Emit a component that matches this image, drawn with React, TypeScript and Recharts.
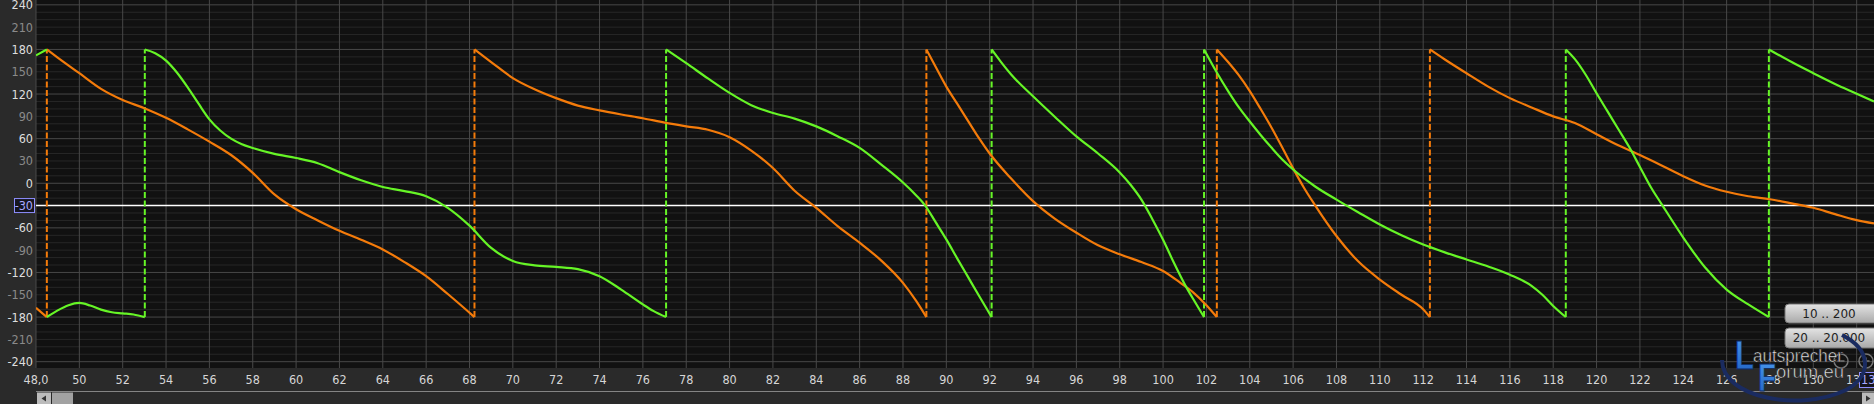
import { CartesianGrid, Line, LineChart, ReferenceLine, XAxis, YAxis } from "recharts";

type Pt = [number, number];

// phase (deg) vs frequency (Hz), split where the phase wraps at ±180
const orangeSegments: Pt[][] = [
  [[48, -167.5], [48.5, -180]],
  [[48.5, 180], [49, 169], [50, 148], [51, 127], [52, 112], [53, 101], [54, 88], [55, 72.5], [56, 56], [57, 38], [58, 14], [59, -15], [60, -35], [61, -50], [62, -64], [63, -76], [64, -89], [65, -106], [66, -125], [67, -149], [68.23, -180]],
  [[68.23, 180], [69, 163], [70, 141.5], [71, 126.5], [72, 114.5], [73, 104.5], [74, 98], [75, 92.5], [76, 87.5], [77, 81.5], [78, 76.5], [79, 72], [80, 62], [81, 44], [82, 20.5], [83, -10], [84, -33], [85, -58], [86, -80], [87, -104], [88, -134], [88.6, -158], [89.08, -180]],
  [[89.08, 180], [89.5, 157], [90, 130], [90.5, 107], [91, 84], [91.5, 61], [92, 40], [93, 6], [94, -24], [95, -47.5], [96, -66.5], [97, -83.5], [98, -95.5], [99, -106], [100, -118], [100.8, -134], [101.4, -147], [102, -164], [102.48, -180]],
  [[102.48, 180], [103, 163], [103.5, 145], [104, 124], [104.5, 100], [105, 75], [105.5, 48], [106, 20], [106.5, -6], [107, -29], [108, -71], [109, -105], [110, -129.5], [111, -150], [112, -169.5], [112.31, -180]],
  [[112.31, 180], [113, 166.5], [114, 148], [115, 130], [116, 114.5], [117, 102], [118, 90], [119, 81], [120, 66], [121, 51], [122, 38], [123, 24], [124, 9.5], [125, -3], [126, -11.5], [127, -17.5], [128, -21.5], [129, -27], [130, -33], [131, -41.5], [132, -49.5], [132.8, -54]],
];

const greenSegments: Pt[][] = [
  [[48, 172], [48.5, 180]],
  [[48.5, -180], [49, -171], [49.5, -164], [50, -161], [50.5, -164.5], [51, -170], [51.5, -173.5], [52, -175], [52.5, -176.5], [53.02, -180]],
  [[53.02, 180], [53.5, 175], [54, 165], [54.5, 149], [55, 129], [55.5, 107], [56, 86], [56.5, 71], [57, 60], [57.5, 52.5], [58, 47.5], [59, 39.5], [60, 34], [61, 27], [62, 15], [63, 4], [64, -5], [65, -10.5], [66, -17.5], [67, -33], [68, -57], [69, -87], [70, -104.5], [71, -110.5], [72, -112.5], [73, -115.5], [74, -125], [75, -143], [76, -163], [76.5, -172], [77.07, -180]],
  [[77.07, 180], [78, 161.5], [79, 141], [80, 121.5], [81, 105], [82, 94.5], [83, 87], [84, 76.5], [85, 63], [86, 47.5], [87, 25], [88, 1], [88.6, -16], [89, -29], [89.5, -52], [90, -75.5], [90.5, -101], [91, -126], [91.5, -151], [92.09, -180]],
  [[92.09, 180], [92.5, 164], [93, 146], [94, 117], [95, 89.5], [96, 63], [97, 40], [98, 14.5], [98.5, -2], [99, -22], [99.5, -48], [100, -76], [100.5, -107], [101, -136], [101.5, -161], [101.89, -180]],
  [[101.89, 180], [102.5, 148], [103, 124], [103.5, 102], [104, 83], [104.5, 65], [105, 48], [105.5, 32], [106, 18.5], [107, -4], [108, -22], [109, -39], [110, -55.5], [111, -70], [112, -82.5], [113, -93], [114, -102.5], [115, -112], [116, -123], [117, -138], [117.5, -150], [118, -165], [118.58, -180]],
  [[118.58, 180], [119, 167], [119.5, 146], [120, 121], [120.5, 97], [121, 73], [121.5, 49], [122, 22], [122.5, -5], [123, -28], [124, -73], [125, -113], [126, -143], [127, -163], [127.95, -180]],
  [[127.95, 180], [129, 163], [130, 148], [131, 133.5], [132, 120.5], [132.8, 110]],
];

const orangeWraps = [48.5, 68.23, 89.08, 102.48, 112.31];
const greenWraps = [53.02, 77.07, 92.09, 101.89, 118.58, 127.95];

const xTicks = [48, 50, 52, 54, 56, 58, 60, 62, 64, 66, 68, 70, 72, 74, 76, 78, 80, 82, 84, 86, 88, 90, 92, 94, 96, 98, 100, 102, 104, 106, 108, 110, 112, 114, 116, 118, 120, 122, 124, 126, 128, 130, 132];
const yTicks = [240, 210, 180, 150, 120, 90, 60, 30, 0, -30, -60, -90, -120, -150, -180, -210, -240];
const markerLevel = -30;

const ORANGE = "#f47b0a";
const GREEN = "#66f526";
const FONT = "'Liberation Sans Narrow', 'DejaVu Sans Condensed', 'Roboto Condensed', Roboto, sans-serif";

const majorRows = yTicks.filter((v) => v % 60 === 0);
const minorRows: number[] = [];
for (let v = -240; v <= 240; v += 10) if (v % 60 !== 0) minorRows.push(v);

function toRows(segments: Pt[][]) {
  const rows: { hz: number; deg: number | null }[] = [];
  segments.forEach((seg, i) => {
    if (i > 0) rows.push({ hz: seg[0][0], deg: null });
    seg.forEach(([hz, deg]) => rows.push({ hz, deg }));
  });
  return rows;
}

const orangeData = toRows(orangeSegments);
const greenData = toRows(greenSegments);

function YTick(props: any) {
  const { y, payload } = props;
  const v = payload.value;
  if (v === markerLevel) {
    return (
      <g>
        <rect x={14.5} y={y - 7} width={20} height={14} fill="#15151f" stroke="#8f8fff" />
        <text x={33} y={y} textAnchor="end" dominantBaseline="central" fill="#a9a9ff" fontSize={12.5} fontFamily={FONT}>
          {v}
        </text>
      </g>
    );
  }
  return (
    <text x={33} y={y} textAnchor="end" dominantBaseline="central" fill={v % 60 === 0 ? "#dedede" : "#8a8a8a"} fontSize={12.5} fontFamily={FONT}>
      {v}
    </text>
  );
}

function XTick(props: any) {
  const { x, y, payload } = props;
  const label = payload.value === 48 ? "48,0" : String(payload.value);
  return (
    <text x={x} y={y + 15.5} textAnchor="middle" fill="#d6d6d6" fontSize={12.5} fontFamily={FONT}>
      {label}
    </text>
  );
}

export default function App() {
  return (
    <div style={{ position: "absolute", left: 0, top: 0, width: 1874, height: 404, overflow: "hidden", background: "#2a2a2a" }}>
      <LineChart width={1874} height={404} margin={{ top: 0, right: 0, bottom: 14, left: 0 }}>
        <CartesianGrid fill="#111111" stroke="#272727" vertical={false} horizontalValues={minorRows} />
        <CartesianGrid stroke="#484848" horizontalValues={majorRows} verticalValues={xTicks} />
        <XAxis
          dataKey="hz"
          type="number"
          domain={[48, 132.8]}
          allowDataOverflow
          ticks={xTicks}
          interval={0}
          height={22}
          axisLine={false}
          tickLine={false}
          tickSize={0}
          tickMargin={0}
          tick={<XTick />}
        />
        <YAxis
          type="number"
          domain={[-248.5, 246.5]}
          allowDataOverflow
          ticks={yTicks}
          interval={0}
          width={36}
          axisLine={false}
          tickLine={false}
          tickSize={0}
          tickMargin={0}
          tick={<YTick />}
        />
        <ReferenceLine y={markerLevel} stroke="#ffffff" strokeWidth={1.5} />
        {greenWraps.map((hz) => (
          <ReferenceLine
            key={"g" + hz}
            segment={[{ x: hz, y: -180 }, { x: hz, y: 180 }]}
            stroke={GREEN}
            strokeWidth={2}
            strokeDasharray="6 2.5"
          />
        ))}
        {orangeWraps.map((hz) => (
          <ReferenceLine
            key={"o" + hz}
            segment={[{ x: hz, y: -180 }, { x: hz, y: 180 }]}
            stroke={ORANGE}
            strokeWidth={2}
            strokeDasharray="6 2.5"
          />
        ))}
        <Line data={orangeData} dataKey="deg" type="monotone" stroke={ORANGE} strokeWidth={2.2} dot={false} activeDot={false} connectNulls={false} isAnimationActive={false} />
        <Line data={greenData} dataKey="deg" type="monotone" stroke={GREEN} strokeWidth={2.2} dot={false} activeDot={false} connectNulls={false} isAnimationActive={false} />
      </LineChart>

      <svg width={1874} height={404} style={{ position: "absolute", left: 0, top: 0, pointerEvents: "none" }}>
        <defs>
          <linearGradient id="btn" x1="0" y1="0" x2="0" y2="1">
            <stop offset="0" stopColor="#e4e4e4" />
            <stop offset="1" stopColor="#a9a9a9" />
          </linearGradient>
          <linearGradient id="logoBlue" x1="0" y1="0" x2="0" y2="1">
            <stop offset="0" stopColor="#4a9af0" />
            <stop offset="1" stopColor="#1f5fc0" />
          </linearGradient>
        </defs>

        {/* scrollbar */}
        <line x1={36} x2={1874} y1={391.5} y2={391.5} stroke="#858585" />
        <rect x={37} y={392.5} width={14} height={12} fill="#bcbcbc" />
        <path d="M46 395.5 L41.5 398.5 L46 401.5 Z" fill="#333" />
        <rect x={52} y={392.5} width={21} height={12} fill="#a2a2a2" />
        <rect x={1862} y={392.5} width={12} height={12} fill="#bcbcbc" />
        <path d="M1866 395.5 L1870.5 398.5 L1866 401.5 Z" fill="#333" />

        {/* cursor box on x axis */}
        <rect x={1859.5} y={372.5} width={20} height={15} fill="#15151f" stroke="#8f8fff" />
        <text x={1861} y={384} fill="#a9a9ff" fontSize={12.5} fontFamily={FONT}>132</text>

        {/* range buttons */}
        <rect x={1785} y={304} width={95} height={19} rx={4} fill="url(#btn)" stroke="#777" />
        <text x={1829} y={317.5} textAnchor="middle" fill="#1e1e1e" fontSize={12} fontFamily="'DejaVu Sans', sans-serif">10 .. 200</text>
        <rect x={1785} y={328} width={95} height={20} rx={4} fill="url(#btn)" stroke="#777" />
        <text x={1829} y={342} textAnchor="middle" fill="#1e1e1e" fontSize={12} fontFamily="'DejaVu Sans', sans-serif">20 .. 20.000</text>

        {/* zoom icons */}
        <circle cx={1841} cy={361} r={7} fill="none" stroke="#777" strokeWidth={1.5} />
        <line x1={1837.5} x2={1844.5} y1={361} y2={361} stroke="#777" strokeWidth={1.5} />
        <circle cx={1866} cy={361} r={7} fill="none" stroke="#777" strokeWidth={1.5} />
        <line x1={1862.5} x2={1869.5} y1={361} y2={361} stroke="#777" strokeWidth={1.5} />
        <line x1={1866} x2={1866} y1={357.5} y2={364.5} stroke="#777" strokeWidth={1.5} />

        {/* watermark */}
        <path d="M1722 360 C 1722 398, 1800 412, 1846 390 C 1872 376, 1872 350, 1842 335" fill="none" stroke="#1a2b60" strokeWidth={4} />
        <text x={1735} y={369} fontSize={40} fontWeight="bold" fontFamily="'Liberation Sans', Arial, sans-serif" fill="url(#logoBlue)" stroke="#0d2a66" strokeWidth={0.8} textLength={19} lengthAdjust="spacingAndGlyphs">L</text>
        <text x={1753} y={362} fontSize={19} fontFamily="'Liberation Sans', Arial, sans-serif" fill="#e6e6e6" stroke="#1a1a1a" strokeWidth={0.6} textLength={90} lengthAdjust="spacingAndGlyphs">autsprecher</text>
        <text x={1758} y={391} fontSize={38} fontWeight="bold" fontFamily="'Liberation Sans', Arial, sans-serif" fill="url(#logoBlue)" stroke="#0d2a66" strokeWidth={0.8} textLength={18} lengthAdjust="spacingAndGlyphs">F</text>
        <text x={1776} y={378} fontSize={19} fontFamily="'Liberation Sans', Arial, sans-serif" fill="#e6e6e6" stroke="#1a1a1a" strokeWidth={0.6} textLength={68} lengthAdjust="spacingAndGlyphs">orum.eu</text>
      </svg>
    </div>
  );
}
